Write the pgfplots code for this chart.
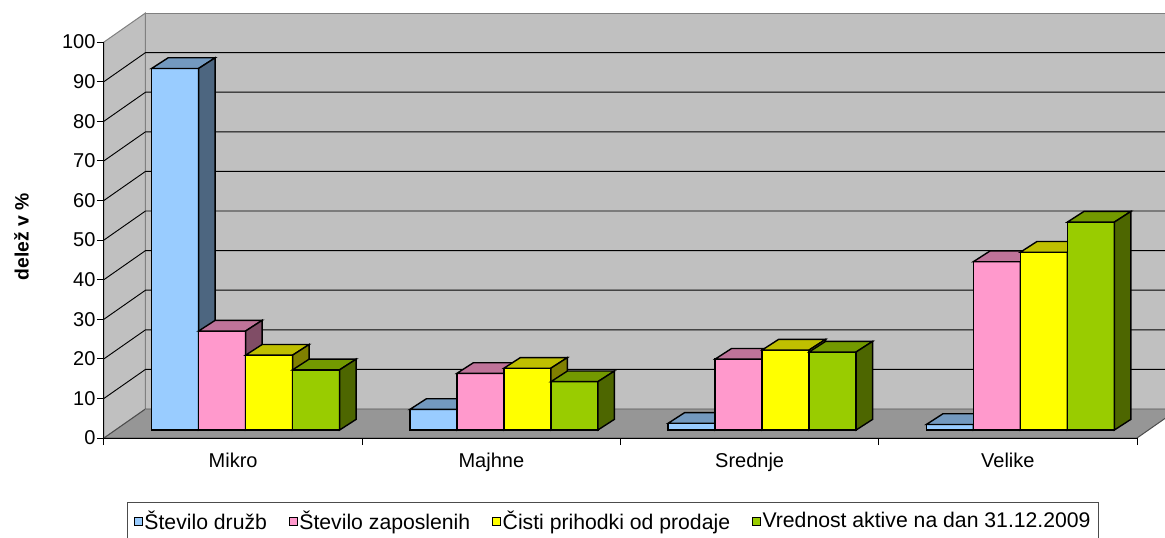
\documentclass[border=0pt]{standalone}
\usepackage{fontspec}
\setmainfont{Liberation Sans}
\usepackage{pgfplots}
\usepackage{pgfplotstable}
\pgfplotsset{compat=1.18}

\definecolor{bF}{HTML}{99CCFF}\definecolor{bT}{HTML}{7399BF}\definecolor{bS}{HTML}{4D6680}
\definecolor{pF}{HTML}{FF99CC}\definecolor{pT}{HTML}{BF7399}\definecolor{pS}{HTML}{804D66}
\definecolor{yF}{HTML}{FFFF00}\definecolor{yT}{HTML}{BFBF00}\definecolor{yS}{HTML}{808000}
\definecolor{gF}{HTML}{99CC00}\definecolor{gT}{HTML}{739900}\definecolor{gS}{HTML}{4D6600}
\definecolor{wallc}{HTML}{C0C0C0}\definecolor{floorc}{HTML}{969696}\definecolor{edgec}{HTML}{808080}

% values in % (share)
\pgfplotstableread{
cat druzbe zaposleni prihodki aktiva
0 91.3 25.0 18.9 15.2
1 5.2 14.3 15.6 12.2
2 1.7 17.9 20.2 19.7
3 1.4 42.5 44.9 52.5
}\data

% a 3D bar (front, top and side faces), drawn from the top-centre of the category
\newcommand\cubefaces{%
  \pgfmathsetmacro\hh{\cval*2.97}%
  \pgfmathsetmacro\br{\bl+35.25}%
  \pgfsetlinewidth{1.05pt}\pgfsetstrokecolor{black}\pgfsetmiterjoin
  \pgfpathrectanglecorners{\pgfpoint{\bl pt}{0pt}}{\pgfpoint{\br pt}{-\hh pt}}%
  \pgfsetfillcolor{fc}\pgfusepath{fill,stroke}%
  \pgfpathmoveto{\pgfpoint{\bl pt}{0pt}}%
  \pgfpathlineto{\pgfpoint{\br pt}{0pt}}%
  \pgfpathlineto{\pgfpoint{\br pt+12.4pt}{8pt}}%
  \pgfpathlineto{\pgfpoint{\bl pt+12.4pt}{8pt}}%
  \pgfpathclose
  \pgfsetfillcolor{tc}\pgfusepath{fill,stroke}%
  \pgfpathmoveto{\pgfpoint{\br pt}{0pt}}%
  \pgfpathlineto{\pgfpoint{\br pt+12.4pt}{8pt}}%
  \pgfpathlineto{\pgfpoint{\br pt+12.4pt}{8pt-\hh pt}}%
  \pgfpathlineto{\pgfpoint{\br pt}{-\hh pt}}%
  \pgfpathclose
  \pgfsetfillcolor{sc}\pgfusepath{fill,stroke}%
}
\pgfdeclareplotmark{cuboid}{\cubefaces}

\def\Dx{31.125pt}\def\Dy{21.75pt}
\newcommand\fsz{\fontsize{15}{18}\selectfont}
\newcommand\lsz{\fontsize{15.9}{18}\selectfont}

\begin{document}
\begin{tikzpicture}
\begin{axis}[
  scale only axis, width=774.75pt, height=297pt,
  xmin=-0.5, xmax=3.5, ymin=-2.02, ymax=97.98,
  clip=false, axis on top,
  axis lines*=left,
  axis line style={black, line width=0.75pt},
  tick style={black, line width=0.75pt},
  tick align=outside, major tick length=5.25pt,
  ytick={-2.02,7.98,17.98,27.98,37.98,47.98,57.98,67.98,77.98,87.98,97.98},
  yticklabels={0,10,20,30,40,50,60,70,80,90,100},
  yticklabel style={font=\fsz, inner xsep=1pt},
  xtick={-0.5,0.5,1.5,2.5,3.5}, xticklabels={},
  extra x ticks={0,1,2,3},
  extra x tick labels={Mikro,Majhne,Srednje,Velike},
  extra x tick style={major tick length=0pt, xticklabel style={font=\fsz, anchor=base, yshift=-22.3pt}},
  legend columns=4,
  legend cell align=left,
  legend style={at={(0.02256,-0.1624)}, anchor=north west, draw=black!70, line width=0.75pt,
    font=\lsz, inner xsep=4.8pt, inner ysep=4pt,
    /tikz/every even column/.append style={column sep=15.3pt},
    nodes={inner xsep=1.3pt, inner ysep=2pt}},
]
% walls and floor
\fill[wallc, draw=edgec, line width=0.75pt] ([shift={(\Dx,\Dy)}]axis cs:-0.5,-2.02) -- ([shift={(\Dx,\Dy)}]axis cs:-0.5,97.98) -- ([shift={(\Dx,\Dy)}]axis cs:3.5,97.98) -- ([shift={(\Dx,\Dy)}]axis cs:3.5,-2.02) -- cycle;
\fill[wallc, draw=edgec, line width=0.75pt] (axis cs:-0.5,-2.02) -- (axis cs:-0.5,97.98) -- ([shift={(\Dx,\Dy)}]axis cs:-0.5,97.98) -- ([shift={(\Dx,\Dy)}]axis cs:-0.5,-2.02) -- cycle;
\fill[floorc, draw=black!70, line width=0.75pt] (axis cs:-0.5,-2.02) -- (axis cs:3.5,-2.02) -- ([shift={(\Dx,\Dy)}]axis cs:3.5,-2.02) -- ([shift={(\Dx,\Dy)}]axis cs:-0.5,-2.02) -- cycle;
\draw[edgec, line width=0.75pt] ([shift={(\Dx,\Dy)}]axis cs:-0.5,-2.02) -- ([shift={(\Dx,\Dy)}]axis cs:3.5,-2.02);
\pgfplotsinvokeforeach{7.98,17.98,27.98,37.98,47.98,57.98,67.98,77.98,87.98}{
  \draw[black, line width=0.7pt] (axis cs:-0.5,#1) -- ([shift={(\Dx,\Dy)}]axis cs:-0.5,#1) -- ([shift={(\Dx,\Dy)}]axis cs:3.5,#1);
}
\coordinate (O) at (axis cs:-0.5,-2.02);
\node[rotate=90, font=\bfseries\fontsize{14.5}{17}\selectfont] at (axis cs:-0.8195,48.74) {delež v \%};

% series 1
\addplot[ybar, bar width=35.25pt, bar shift=-43.5pt, fill=bF, draw=black, line width=1.05pt,
  legend image code/.code={\draw[fill=bF,draw=black,line width=0.6pt] (0pt,-2.9pt) rectangle (5.8pt,2.9pt);}]
  table[x=cat,y=druzbe]{\data};
\addlegendentry{Število družb}
\addplot[forget plot, scatter, only marks, mark=cuboid,
  visualization depends on={\thisrow{druzbe} \as \cval},
  scatter/@pre marker code/.code={\def\bl{-61.125}\colorlet{fc}{bF}\colorlet{tc}{bT}\colorlet{sc}{bS}},
  scatter/@post marker code/.code={}]
  table[x=cat,y=druzbe]{\data};
% series 2
\addplot[ybar, bar width=35.25pt, bar shift=-8.25pt, fill=pF, draw=black, line width=1.05pt,
  legend image code/.code={\draw[fill=pF,draw=black,line width=0.6pt] (0pt,-2.9pt) rectangle (5.8pt,2.9pt);}]
  table[x=cat,y=zaposleni]{\data};
\addlegendentry{Število zaposlenih}
\addplot[forget plot, scatter, only marks, mark=cuboid,
  visualization depends on={\thisrow{zaposleni} \as \cval},
  scatter/@pre marker code/.code={\def\bl{-25.875}\colorlet{fc}{pF}\colorlet{tc}{pT}\colorlet{sc}{pS}},
  scatter/@post marker code/.code={}]
  table[x=cat,y=zaposleni]{\data};
% series 3
\addplot[ybar, bar width=35.25pt, bar shift=27pt, fill=yF, draw=black, line width=1.05pt,
  legend image code/.code={\draw[fill=yF,draw=black,line width=0.6pt] (0pt,-2.9pt) rectangle (5.8pt,2.9pt);}]
  table[x=cat,y=prihodki]{\data};
\addlegendentry{Čisti prihodki od prodaje}
\addplot[forget plot, scatter, only marks, mark=cuboid,
  visualization depends on={\thisrow{prihodki} \as \cval},
  scatter/@pre marker code/.code={\def\bl{9.375}\colorlet{fc}{yF}\colorlet{tc}{yT}\colorlet{sc}{yS}},
  scatter/@post marker code/.code={}]
  table[x=cat,y=prihodki]{\data};
% series 4
\addplot[ybar, bar width=35.25pt, bar shift=62.25pt, fill=gF, draw=black, line width=1.05pt,
  legend image code/.code={\draw[fill=gF,draw=black,line width=0.6pt] (0pt,-2.9pt) rectangle (5.8pt,2.9pt);}]
  table[x=cat,y=aktiva]{\data};
\addlegendentry{Vrednost aktive na dan 31.12.2009}
\addplot[forget plot, scatter, only marks, mark=cuboid,
  visualization depends on={\thisrow{aktiva} \as \cval},
  scatter/@pre marker code/.code={\def\bl{44.625}\colorlet{fc}{gF}\colorlet{tc}{gT}\colorlet{sc}{gS}},
  scatter/@post marker code/.code={}]
  table[x=cat,y=aktiva]{\data};
\end{axis}
\pgfresetboundingbox
\path[use as bounding box] ([shift={(-78pt,-74.25pt)}]O) rectangle ([shift={(795.75pt,328.5pt)}]O);
\end{tikzpicture}
\end{document}
